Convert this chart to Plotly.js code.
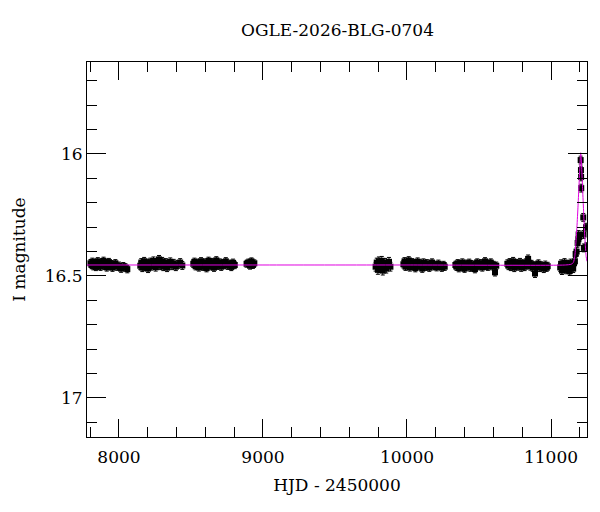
<!DOCTYPE html>
<html>
<head>
<meta charset="utf-8">
<script src="https://cdn.plot.ly/plotly-3.0.1.min.js"></script>
<style>html,body{margin:0;padding:0;background:#fff;}#chart{width:600px;height:512px;}</style>
</head>
<body>
<div id="chart"></div>
<script>
// Observing seasons: HJD - 2450000 and I magnitude
const season1HJD = [7802,7810,7815,7822,7828,7835,7840,7846,7853,7860,7866,7872,7880,7886,7893,7900,7908,7915,7922,7930,7938,7946,7955,7965,7975,7988,8000,8015,8030,8045,8058];
const season1Mag = [16.448,16.455,16.442,16.460,16.451,16.446,16.463,16.452,16.440,16.457,16.449,16.462,16.445,16.453,16.438,16.458,16.447,16.465,16.450,16.443,16.459,16.452,16.466,16.455,16.448,16.462,16.458,16.470,16.460,16.465,16.472];

const season2HJD = [8148,8155,8162,8168,8175,8182,8188,8195,8202,8210,8218,8225,8232,8240,8248,8255,8262,8270,8278,8285,8292,8300,8308,8316,8325,8334,8345,8356,8368,8380,8395,8410,8425,8440];
const season2Mag = [16.458,16.445,16.466,16.450,16.440,16.462,16.455,16.447,16.470,16.452,16.443,16.460,16.449,16.438,16.456,16.464,16.445,16.451,16.432,16.458,16.447,16.440,16.462,16.453,16.445,16.466,16.450,16.442,16.458,16.448,16.462,16.452,16.445,16.457];

const season3HJD = [8516,8524,8532,8540,8548,8555,8562,8570,8578,8585,8592,8600,8608,8615,8622,8630,8638,8645,8652,8660,8668,8676,8684,8692,8700,8710,8720,8730,8742,8755,8768,8780,8792,8804];
const season3Mag = [16.450,16.442,16.460,16.453,16.446,16.465,16.448,16.440,16.457,16.462,16.445,16.452,16.468,16.447,16.438,16.455,16.460,16.443,16.451,16.466,16.449,16.436,16.458,16.452,16.445,16.462,16.448,16.455,16.440,16.458,16.450,16.463,16.446,16.455];

const season4HJD = [8886,8898,8910,8920,8930,8940];
const season4Mag = [16.450,16.445,16.458,16.440,16.455,16.448];

const season5HJD = [9782,9790,9798,9805,9812,9818,9825,9832,9840,9848,9856,9865,9875,9885];
const season5Mag = [16.462,16.445,16.475,16.440,16.468,16.452,16.438,16.478,16.455,16.446,16.470,16.458,16.442,16.462];

const season6HJD = [9975,9983,9990,9998,10005,10012,10020,10028,10035,10042,10050,10058,10066,10074,10082,10090,10098,10106,10114,10122,10130,10138,10146,10155,10164,10174,10184,10195,10206,10218,10230,10242,10254,10262];
const season6Mag = [16.452,16.440,16.462,16.448,16.455,16.436,16.465,16.450,16.444,16.458,16.447,16.468,16.453,16.441,16.460,16.449,16.456,16.470,16.445,16.452,16.462,16.448,16.458,16.466,16.451,16.445,16.460,16.455,16.464,16.450,16.458,16.466,16.455,16.462];

const season7HJD = [10336,10344,10352,10360,10368,10376,10384,10392,10400,10408,10416,10424,10432,10440,10448,10456,10464,10472,10480,10488,10496,10505,10514,10523,10532,10542,10552,10562,10572,10582,10592,10602,10611,10620];
const season7Mag = [16.455,16.462,16.448,16.468,16.452,16.458,16.445,16.465,16.470,16.450,16.460,16.455,16.446,16.466,16.452,16.462,16.458,16.472,16.450,16.445,16.460,16.455,16.448,16.465,16.452,16.440,16.458,16.462,16.450,16.445,16.460,16.455,16.485,16.458];

const season8HJD = [10697,10705,10713,10721,10729,10737,10745,10753,10761,10769,10777,10785,10793,10801,10809,10817,10825,10833,10841,10849,10857,10865,10873,10881,10889,10897,10905,10913,10922,10931,10940,10950,10960,10970,10977];
const season8Mag = [16.450,16.458,16.445,16.462,16.452,16.440,16.466,16.455,16.448,16.460,16.452,16.444,16.465,16.458,16.450,16.462,16.446,16.455,16.430,16.448,16.460,16.452,16.465,16.458,16.490,16.462,16.455,16.450,16.466,16.458,16.462,16.470,16.455,16.465,16.460];

const season9HJD = [11064,11070,11076,11082,11088,11094,11100,11106,11112,11118,11124,11130,11136,11142,11148,11154,11160,11166,11171,11178,11185,11190,11192,11196,11206,11208,11209,11210,11224,11226,11228,11243,11246];
const season9Mag = [16.465,16.450,16.478,16.458,16.470,16.445,16.462,16.475,16.452,16.468,16.458,16.480,16.447,16.462,16.455,16.470,16.448,16.440,16.410,16.400,16.365,16.350,16.330,16.340,16.025,16.066,16.094,16.140,16.260,16.330,16.385,16.300,16.380];

// typical photometric error per season
const seasonErr = [0.015, 0.016, 0.015, 0.014, 0.018, 0.015, 0.015, 0.016, 0.016];

// model light curve
const modelHJD = [7778, 9000, 10000, 11100, 11140, 11155, 11165, 11172, 11180, 11188, 11195, 11200, 11204, 11206, 11209, 11214, 11220, 11226, 11231, 11238, 11244, 11250];
const modelMag = [16.455, 16.455, 16.455, 16.455, 16.452, 16.445, 16.42, 16.37, 16.30, 16.21, 16.12, 16.06, 16.01, 15.995, 16.01, 16.07, 16.15, 16.23, 16.30, 16.37, 16.42, 16.44];

const titleText = 'OGLE-2026-BLG-0704';
const xTitle = 'HJD - 2450000';
const yTitle = 'I magnitude';

const seasonsX = [season1HJD, season2HJD, season3HJD, season4HJD, season5HJD, season6HJD, season7HJD, season8HJD, season9HJD];
const seasonsY = [season1Mag, season2Mag, season3Mag, season4Mag, season5Mag, season6Mag, season7Mag, season8Mag, season9Mag];

const hjd = [], mag = [], err = [];
seasonsX.forEach((sx, i) => {
  sx.forEach((x, j) => { hjd.push(x); mag.push(seasonsY[i][j]); err.push(seasonErr[i]); });
});

const font = 'DejaVu Serif, Liberation Serif, serif';

const data = [
  {
    x: hjd, y: mag, type: 'scatter', mode: 'markers',
    marker: {symbol: 'square', size: 6, color: '#000'},
    error_y: {type: 'data', array: err, visible: true, color: '#000', thickness: 1, width: 2},
    hoverinfo: 'x+y', showlegend: false
  },
  {
    x: modelHJD, y: modelMag, type: 'scatter', mode: 'lines',
    line: {color: '#e000e0', width: 1, shape: 'spline', smoothing: 0.6},
    hoverinfo: 'skip', showlegend: false
  }
];

const layout = {
  width: 600, height: 512,
  margin: {l: 87, r: 13, t: 62, b: 75},
  paper_bgcolor: '#fff', plot_bgcolor: '#fff',
  font: {family: font, size: 17, color: '#000'},
  title: {text: titleText, font: {family: font, size: 17, color: '#000'}, x: 0.5625, xanchor: 'center', y: 0.941, yref: 'container', yanchor: 'middle'},
  xaxis: {
    range: [7778, 11250], showgrid: false, zeroline: false,
    showline: true, linecolor: '#000', linewidth: 1, mirror: 'ticks',
    ticks: 'inside', ticklen: 18, tickwidth: 1, tickcolor: '#000',
    dtick: 1000, tick0: 0, tickformat: 'd', exponentformat: 'none', separatethousands: false,
    ticklabelstandoff: 5,
    tickfont: {family: font, size: 17, color: '#000'},
    minor: {dtick: 200, ticks: 'inside', ticklen: 10, tickwidth: 1, tickcolor: '#000', showgrid: false},
    title: {text: xTitle, font: {family: font, size: 17, color: '#000'}, standoff: 12}
  },
  yaxis: {
    range: [17.16, 15.623], showgrid: false, zeroline: false,
    showline: true, linecolor: '#000', linewidth: 1, mirror: 'ticks',
    ticks: 'inside', ticklen: 19, tickwidth: 1, tickcolor: '#000',
    dtick: 0.5, tick0: 0, tickfont: {family: font, size: 17, color: '#000'},
    minor: {dtick: 0.1, ticks: 'inside', ticklen: 10, tickwidth: 1, tickcolor: '#000', showgrid: false},
    title: {text: yTitle, font: {family: font, size: 17, color: '#000'}, standoff: 14}
  }
};

Plotly.newPlot('chart', data, layout, {displayModeBar: false, staticPlot: true});
</script>
</body>
</html>
